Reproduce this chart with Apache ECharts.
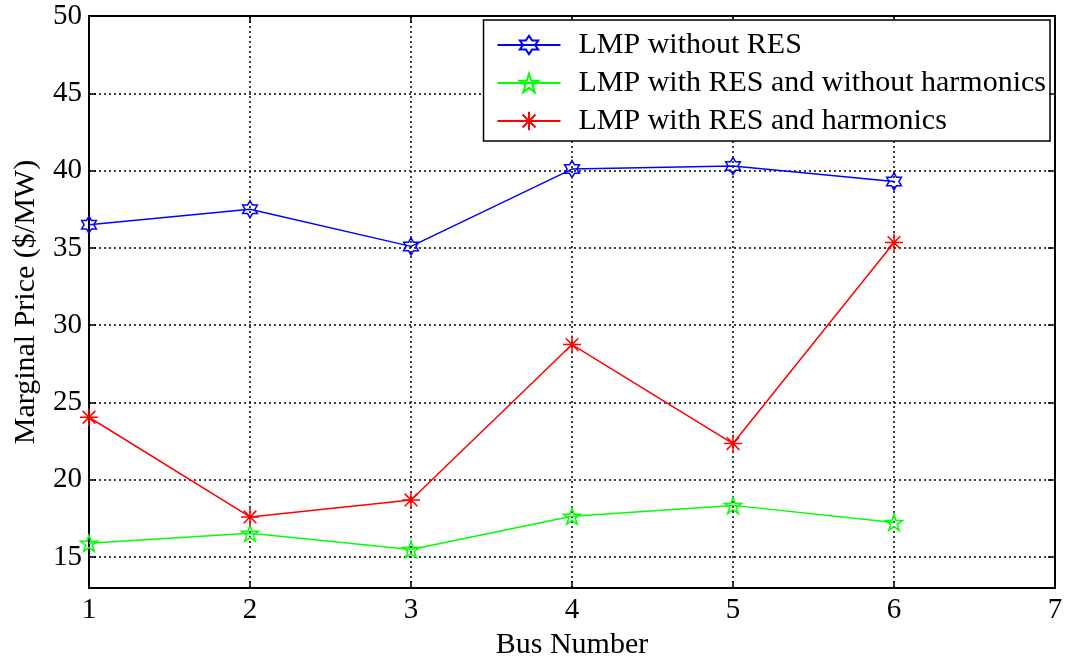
<!DOCTYPE html>
<html><head><meta charset="utf-8">
<script src="https://cdn.jsdelivr.net/npm/echarts@6/dist/echarts.min.js"></script>
<style>html,body{margin:0;padding:0;background:#fff}#c{width:1066px;height:665px}</style>
</head><body><div id="c"></div>
<script>
var buses = [1, 2, 3, 4, 5, 6];
var lmpNoRes = [36.5, 37.5, 35.1, 40.1, 40.3, 39.3];
var lmpResNoHarm = [15.9, 16.55, 15.5, 17.65, 18.35, 17.25];
var lmpResHarm = [24.05, 17.6, 18.7, 28.75, 22.35, 35.35];
var yTicks = [15, 20, 25, 30, 35, 40, 45, 50];
var names = ['LMP without RES', 'LMP with RES and without harmonics', 'LMP with RES and harmonics'];

var hexagram = 'path://M0,-100 L28.87,-50 L86.6,-50 L57.74,0 L86.6,50 L28.87,50 L0,100 L-28.87,50 L-86.6,50 L-57.74,0 L-86.6,-50 L-28.87,-50 Z';
var pentagram = 'path://M0,-100 L22.45,-30.9 L95.1,-30.9 L36.33,11.8 L58.78,80.9 L0,38.2 L-58.78,80.9 L-36.33,11.8 L-95.1,-30.9 L-22.45,-30.9 Z';
var asterisk = 'path://M0,-100 L0,100 M-100,0 L100,0 M-70.7,-70.7 L70.7,70.7 M-70.7,70.7 L70.7,-70.7';

function pairs(v){ return buses.map(function(b,i){ return [b, v[i]]; }); }
var font = 'Liberation Serif';
function mkSeries(name, vals, color, sym, size){
  return {
    name: name, type: 'line', data: pairs(vals),
    symbol: sym, symbolSize: size, symbolKeepAspect: true,
    lineStyle: {color: color, width: 1.5},
    itemStyle: {color: 'rgba(255,255,255,0)', borderColor: color, borderWidth: 1.5},
    emphasis: {disabled: true}, animation: false, z: 3
  };
}
var chart = echarts.init(document.getElementById('c'));
chart.setOption({
  backgroundColor: '#fff',
  animation: false,
  grid: {left: 89, right: 11, top: 16, bottom: 76, containLabel: false},
  legend: {
    orient: 'vertical', right: 16, top: 20,
    backgroundColor: '#fff', borderColor: '#000', borderWidth: 1.5,
    padding: [10, 4, 5, 13], itemGap: 8, itemWidth: 63, itemHeight: 23,
    textStyle: {fontFamily: font, fontSize: 30, lineHeight: 30, color: '#000', padding: [0, 0, 0, 13]},
    data: names
  },
  xAxis: [{
    type: 'value', min: 1, max: 7, interval: 1,
    name: 'Bus Number', nameLocation: 'middle', nameGap: 40,
    nameTextStyle: {fontFamily: font, fontSize: 30, color: '#000'},
    axisLine: {show: true, lineStyle: {color: '#000', width: 2}},
    axisTick: {show: true, inside: true, length: 7, lineStyle: {color: '#000', width: 1.5}},
    axisLabel: {fontFamily: font, fontSize: 29, color: '#000', margin: 8},
    splitLine: {show: true, lineStyle: {color: '#000', type: [2, 3], width: 1.5}}
  }, {
    type: 'value', min: 1, max: 7, interval: 1, position: 'top',
    axisLine: {show: true, lineStyle: {color: '#000', width: 2}},
    axisTick: {show: true, inside: true, length: 7, lineStyle: {color: '#000', width: 1.5}},
    axisLabel: {show: false}, splitLine: {show: false}
  }],
  yAxis: [{
    type: 'value', min: 13, max: 50,
    name: 'Marginal Price ($/MW)', nameLocation: 'middle', nameGap: 48,
    nameTextStyle: {fontFamily: font, fontSize: 30, color: '#000'},
    axisLine: {show: true, lineStyle: {color: '#000', width: 2}},
    axisTick: {show: true, inside: true, length: 7, customValues: yTicks, lineStyle: {color: '#000', width: 1.5}},
    axisLabel: {fontFamily: font, fontSize: 29, color: '#000', margin: 7, customValues: yTicks},
    splitLine: {show: true, customValues: yTicks, lineStyle: {color: '#000', type: [2, 3], width: 1.5}}
  }, {
    type: 'value', min: 13, max: 50, position: 'right',
    axisLine: {show: true, lineStyle: {color: '#000', width: 2}},
    axisTick: {show: true, inside: true, length: 7, customValues: yTicks, lineStyle: {color: '#000', width: 1.5}},
    axisLabel: {show: false, customValues: yTicks}, splitLine: {show: false}
  }],
  series: [
    mkSeries(names[0], lmpNoRes, '#0000ff', hexagram, 17),
    mkSeries(names[1], lmpResNoHarm, '#00ff00', pentagram, 17),
    mkSeries(names[2], lmpResHarm, '#ff0000', asterisk, 18)
  ]
});
</script></body></html>
